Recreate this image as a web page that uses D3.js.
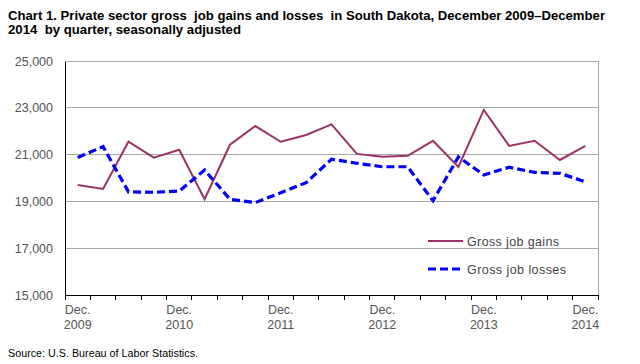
<!DOCTYPE html>
<html><head><meta charset="utf-8">
<script src="https://cdn.jsdelivr.net/npm/d3@7"></script>
<style>
body{margin:0;background:#fff;}
svg{display:block;}
</style></head>
<body>
<svg id="chart" width="640" height="364"></svg>
<script>
const quarters = ["Dec. 2009","Mar. 2010","Jun. 2010","Sep. 2010","Dec. 2010","Mar. 2011","Jun. 2011","Sep. 2011","Dec. 2011","Mar. 2012","Jun. 2012","Sep. 2012","Dec. 2012","Mar. 2013","Jun. 2013","Sep. 2013","Dec. 2013","Mar. 2014","Jun. 2014","Sep. 2014","Dec. 2014"];
const grossJobGains = [19700,19530,21550,20870,21210,19090,21420,22220,21550,21840,22290,21030,20910,20950,21590,20470,22910,21370,21590,20770,21370];
const grossJobLosses = [20880,21340,19410,19390,19440,20340,19090,18950,19370,19800,20800,20630,20480,20480,19030,20900,20130,20460,20240,20200,19840];
const yTicks = [15000,17000,19000,21000,23000,25000];
const labeledQuarters = ["Dec. 2009","Dec. 2010","Dec. 2011","Dec. 2012","Dec. 2013","Dec. 2014"];
const titleLines = ["Chart 1. Private sector gross  job gains and losses  in South Dakota, December 2009\u2013December","2014  by quarter, seasonally adjusted"];
const sourceText = "Source: U.S. Bureau of Labor Statistics.";

const svg = d3.select("#chart");
const m = {left:65, right:598, top:61, bottom:295};
const x = d3.scaleBand().domain(quarters).range([m.left, m.right]);
const y = d3.scaleLinear().domain([15000,25000]).range([m.bottom, m.top]);
const sans = "'Liberation Sans',Arial,sans-serif";

// title (condensed to match the narrow face of the original)
const titleWidths = [597, 233];
svg.append("g").selectAll("text").data(titleLines).join("text")
  .attr("x", 8).attr("y", (d,i)=>20+i*14)
  .attr("font-family", sans).attr("font-weight","bold").attr("font-size", 12.5)
  .attr("fill","#000").attr("xml:space","preserve").style("white-space","pre")
  .attr("textLength",(d,i)=>titleWidths[i]).attr("lengthAdjust","spacingAndGlyphs")
  .text(d=>d);

// gridlines
svg.append("g").selectAll("line").data(yTicks.filter(t=>t>15000)).join("line")
  .attr("x1", m.left).attr("x2", m.right)
  .attr("y1", d=>y(d)).attr("y2", d=>y(d))
  .attr("stroke","#a6a6a6").attr("stroke-width",1).attr("shape-rendering","crispEdges");
// right border
svg.append("line").attr("x1",m.right).attr("x2",m.right).attr("y1",m.top).attr("y2",m.bottom)
  .attr("stroke","#a6a6a6").attr("shape-rendering","crispEdges");

// y axis
const yAxis = svg.append("g").attr("transform",`translate(${m.left},0)`)
  .call(d3.axisLeft(y).tickValues(yTicks).tickSize(0).tickPadding(12).tickFormat(d3.format(",")));
yAxis.select(".domain").attr("stroke","#000").attr("shape-rendering","crispEdges");
yAxis.selectAll("text").attr("font-family",sans).attr("font-size",12.5).attr("fill","#555");

// x axis
const xAxis = svg.append("g").attr("transform",`translate(0,${m.bottom})`)
  .call(d3.axisBottom(x).tickSize(0).tickFormat(""));
xAxis.select(".domain").attr("stroke","#000").attr("shape-rendering","crispEdges");
const tickPos = quarters.map(q=>x(q)).concat([m.right]);
xAxis.append("g").selectAll("line").data(tickPos).join("line")
  .attr("x1",d=>d).attr("x2",d=>d).attr("y1",0).attr("y2",5)
  .attr("stroke","#000").attr("shape-rendering","crispEdges");
const xl = xAxis.append("g").selectAll("text").data(labeledQuarters).join("text")
  .attr("x", d=>x(d)+x.bandwidth()/2)
  .attr("text-anchor","middle").attr("font-family",sans).attr("font-size",12.5).attr("fill","#555");
xl.append("tspan").attr("x", d=>x(d)+x.bandwidth()/2).attr("y",19).text(d=>d.split(" ")[0]);
xl.append("tspan").attr("x", d=>x(d)+x.bandwidth()/2).attr("y",34).text(d=>d.split(" ")[1]);

// lines
const cx = q => x(q)+x.bandwidth()/2;
const lineGen = d3.line().x(d=>cx(d.q)).y(d=>y(d.v));
svg.append("path").datum(quarters.map((q,i)=>({q,v:grossJobGains[i]})))
  .attr("d",lineGen).attr("fill","none").attr("stroke","#993366").attr("stroke-width",2);
svg.append("path").datum(quarters.map((q,i)=>({q,v:grossJobLosses[i]})))
  .attr("d",lineGen).attr("fill","none").attr("stroke","#0000ff").attr("stroke-width",3.2)
  .attr("stroke-dasharray","8,4");

// legend
const legend = [{name:"Gross job gains",color:"#993366",w:2,dash:null,y:241,len:92},
                {name:"Gross job losses",color:"#0000ff",w:3.2,dash:"8,4",y:269,len:99}];
const lg = svg.append("g").selectAll("g").data(legend).join("g");
lg.append("line").attr("x1",428).attr("x2",463).attr("y1",d=>d.y).attr("y2",d=>d.y)
  .attr("stroke",d=>d.color).attr("stroke-width",d=>d.w).attr("stroke-dasharray",d=>d.dash);
lg.append("text").attr("x",467).attr("y",d=>d.y+4.5).attr("font-family",sans).attr("font-size",12.5)
  .attr("fill","#444").attr("textLength",d=>d.len).attr("lengthAdjust","spacing").text(d=>d.name);

// source
svg.append("text").attr("x",8).attr("y",357).attr("font-family",sans).attr("font-size",11)
  .attr("fill","#000").attr("textLength",190).attr("lengthAdjust","spacingAndGlyphs").text(sourceText);
</script>
</body></html>
